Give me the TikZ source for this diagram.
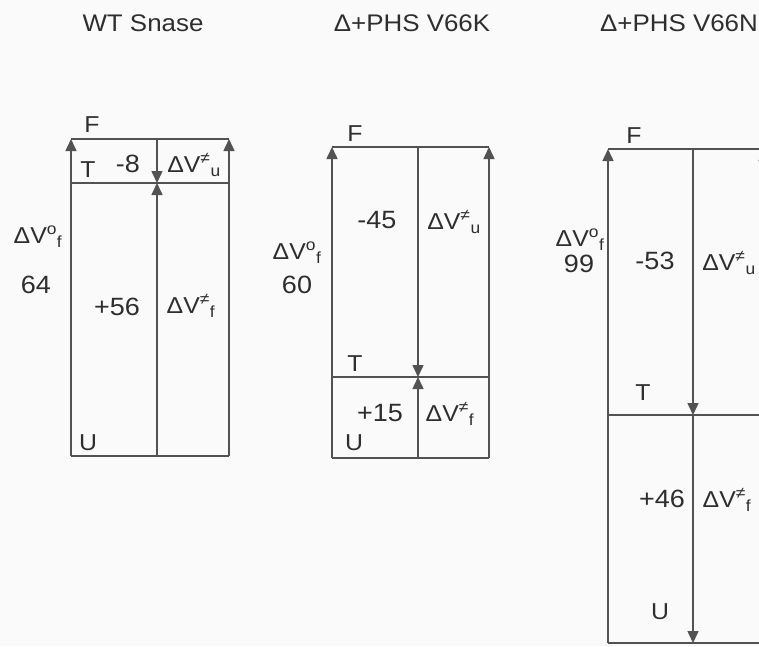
\documentclass[tikz,border=0pt]{standalone}
\usepackage{fontspec}
\setmainfont[FakeStretch=1.08]{Liberation Sans}
\usepackage{tikz}
\usetikzlibrary{arrows.meta}

\newcommand{\dvo}{ΔV\textsuperscript{o}\textsubscript{f}}
\newcommand{\dvu}{ΔV\textsuperscript{≠}\textsubscript{u}}
\newcommand{\dvf}{ΔV\textsuperscript{≠}\textsubscript{f}}

\begin{document}
\begin{tikzpicture}[x=1pt,y=-1pt,every node/.style={font=\fontsize{23}{26}\selectfont,text=black!82},
  title/.style={font=\fontsize{24}{28}\selectfont},
  num/.style={font=\fontsize{25}{28}\selectfont},
  bar/.style={line width=1.5pt,draw=black!68},
  up/.style={bar,-{Triangle[length=12pt,width=11pt]}}]
  \useasboundingbox[fill=black!2] (0,0) rectangle (759,646);
  \clip (0,0) rectangle (759,646);
  % WT Snase
  \coordinate (fl1) at (71,139);  \coordinate (fm1) at (157,139); \coordinate (fr1) at (229,139);
  \coordinate (tl1) at (71,183);  \coordinate (tm1) at (157,183); \coordinate (tr1) at (229,183);
  \coordinate (ul1) at (71,456);  \coordinate (um1) at (157,456); \coordinate (ur1) at (229,456);
  \draw[bar] (fl1) -- (fr1) (tl1) -- (tr1) (ul1) -- (ur1);
  \draw[up] (ul1) -- (fl1);
  \draw[up] (ur1) -- (fr1);
  \draw[up] (fm1) -- (tm1);
  \draw[up] (um1) -- (tm1);
  \node[title] (h1) at (143,23) {WT Snase};
  \node (f1) at (92,125) {F};
  \node (t1) at (88,170) {T};
  \node (u1) at (88,443) {U};
  \node[num] (n1) at (128,164) {-8};
  \node (s1) at (194,165) {\dvu};
  \node (o1) at (38,237) {\dvo};
  \node[num] (d1) at (36,285) {64};
  \node[num] (m1) at (117,307) {+56};
  \node (r1) at (191,306) {\dvf};
  % D+PHS V66K
  \coordinate (fl2) at (332,147); \coordinate (fm2) at (418,147); \coordinate (fr2) at (489,147);
  \coordinate (tl2) at (332,377); \coordinate (tm2) at (418,377); \coordinate (tr2) at (489,377);
  \coordinate (ul2) at (332,458); \coordinate (um2) at (418,458); \coordinate (ur2) at (489,458);
  \draw[bar] (fl2) -- (fr2) (tl2) -- (tr2) (ul2) -- (ur2);
  \draw[up] (ul2) -- (fl2);
  \draw[up] (ur2) -- (fr2);
  \draw[up] (fm2) -- (tm2);
  \draw[up] (um2) -- (tm2);
  \node[title] (h2) at (412,23) {Δ+PHS V66K};
  \node (f2) at (355,134) {F};
  \node (t2) at (355,364) {T};
  \node (u2) at (354,443) {U};
  \node[num] (n2) at (377,220) {-45};
  \node (s2) at (454,222) {\dvu};
  \node (o2) at (297,253) {\dvo};
  \node[num] (d2) at (297,285) {60};
  \node[num] (m2) at (380,413) {+15};
  \node (r2) at (450,414) {\dvf};
  % D+PHS V66N
  \coordinate (fl3) at (608,149); \coordinate (fm3) at (693,149); \coordinate (fr3) at (764,149);
  \coordinate (tl3) at (608,415); \coordinate (tm3) at (693,415); \coordinate (tr3) at (764,415);
  \coordinate (ul3) at (608,643); \coordinate (um3) at (693,643); \coordinate (ur3) at (764,643);
  \draw[bar] (fl3) -- (fr3) (tl3) -- (tr3) (ul3) -- (ur3);
  \draw[up] (ul3) -- (fl3);
  \draw[up] (ur3) -- (fr3);
  \draw[up] (fm3) -- (tm3);
  \draw[up] (tm3) -- (um3);
  \node[title] (h3) at (679,23) {Δ+PHS V66N};
  \node (f3) at (634,136) {F};
  \node (t3) at (643,393) {T};
  \node (u3) at (660,612) {U};
  \node[num] (n3) at (655,261) {-53};
  \node (s3) at (729,263) {\dvu};
  \node (o3) at (580,240) {\dvo};
  \node[num] (d3) at (579,264) {99};
  \node[num] (m3) at (662,499) {+46};
  \node (r3) at (727,500) {\dvf};
\end{tikzpicture}
\end{document}
